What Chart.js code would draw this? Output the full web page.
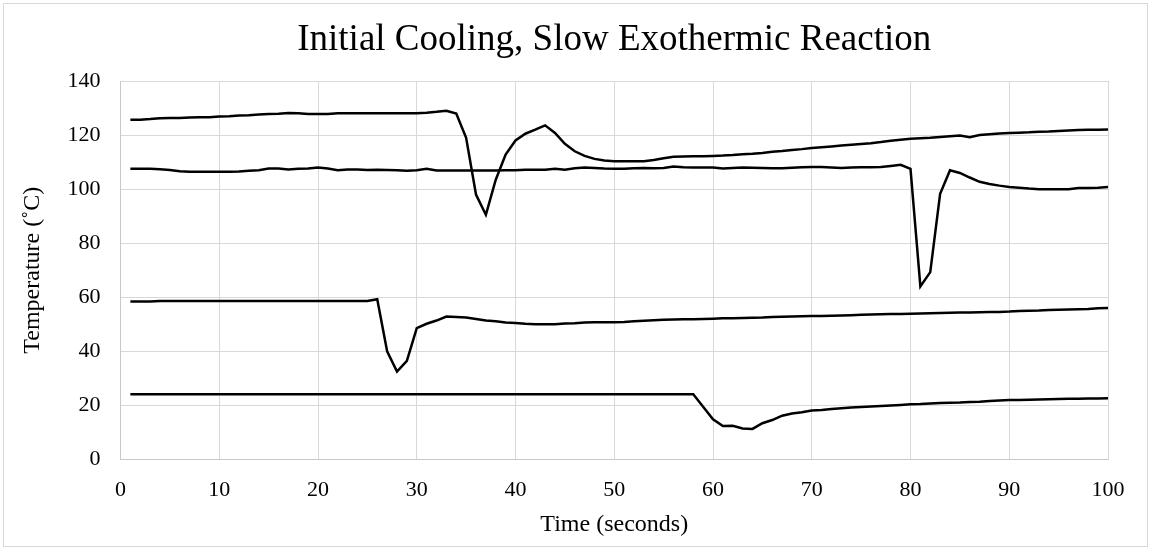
<!DOCTYPE html>
<html>
<head>
<meta charset="utf-8">
<script src="https://cdn.jsdelivr.net/npm/chart.js@4"></script>
<style>
  html, body { margin: 0; padding: 0; background: #ffffff; }
  #wrap { width: 1151px; height: 547px; position: relative; }
</style>
</head>
<body>
<div id="wrap"><canvas id="c" width="1151" height="547"></canvas></div>
<script>
const chartTitle = "Initial Cooling, Slow Exothermic Reaction";
const xTitle = "Time (seconds)";
const yTitle = "Temperature (\u02DAC)";

const times = [1,2,3,4,5,6,7,8,9,10,11,12,13,14,15,16,17,18,19,20,
  21,22,23,24,25,26,27,28,29,30,31,32,33,34,35,36,37,38,39,40,
  41,42,43,44,45,46,47,48,49,50,51,52,53,54,55,56,57,58,59,60,
  61,62,63,64,65,66,67,68,69,70,71,72,73,74,75,76,77,78,79,80,
  81,82,83,84,85,86,87,88,89,90,91,92,93,94,95,96,97,98,99,100];

const seriesA = [125.7,125.7,125.9,126.2,126.3,126.3,126.5,126.6,126.6,126.9,
  127.0,127.2,127.3,127.6,127.8,127.9,128.2,128.1,127.8,127.8,
  127.8,128.1,128.1,128.1,128.1,128.1,128.1,128.1,128.1,128.1,
  128.3,128.6,129.0,128.0,119.0,98.0,90.5,103.5,112.8,118.0,
  120.5,122.0,123.6,120.8,116.8,114.0,112.3,111.2,110.6,110.3,
  110.3,110.3,110.3,110.8,111.4,112.0,112.1,112.2,112.2,112.3,
  112.4,112.6,112.9,113.1,113.4,113.8,114.1,114.5,114.8,115.2,
  115.5,115.8,116.1,116.4,116.7,117.0,117.4,117.9,118.3,118.6,
  118.8,119.0,119.3,119.6,119.8,119.2,120.0,120.3,120.6,120.8,
  120.9,121.0,121.2,121.3,121.5,121.7,121.9,122.0,122.0,122.1];

const seriesB = [107.5,107.5,107.5,107.4,107.1,106.6,106.4,106.4,106.4,106.4,
  106.4,106.5,106.8,107.0,107.6,107.6,107.3,107.5,107.6,108.0,
  107.6,107.0,107.3,107.3,107.1,107.2,107.1,107.0,106.8,107.0,
  107.5,106.9,106.9,106.9,106.9,106.9,106.9,106.9,107.0,107.0,
  107.2,107.2,107.2,107.5,107.2,107.7,108.0,107.8,107.6,107.5,
  107.5,107.7,107.8,107.7,107.8,108.4,108.1,108.0,108.0,108.0,
  107.6,107.8,108.0,107.9,107.8,107.7,107.7,107.9,108.1,108.2,
  108.2,108.0,107.8,108.0,108.1,108.1,108.2,108.6,109.0,107.5,
  64.0,69.3,98.3,107.0,106.0,104.3,102.7,101.9,101.3,100.8,
  100.5,100.2,100.0,100.0,100.0,100.0,100.4,100.4,100.5,100.8];

const seriesC = [58.4,58.4,58.4,58.6,58.6,58.6,58.6,58.6,58.6,58.6,
  58.6,58.6,58.6,58.6,58.6,58.6,58.6,58.6,58.6,58.6,
  58.6,58.6,58.6,58.6,58.6,59.3,40.0,32.5,36.5,48.6,
  50.2,51.4,52.9,52.7,52.5,52.0,51.4,51.1,50.7,50.5,
  50.2,50.0,50.0,50.0,50.3,50.4,50.7,50.8,50.8,50.8,
  50.9,51.1,51.3,51.5,51.7,51.8,51.9,51.9,52.0,52.1,
  52.2,52.2,52.3,52.4,52.5,52.7,52.8,52.9,53.0,53.1,
  53.1,53.2,53.3,53.4,53.5,53.6,53.7,53.8,53.8,53.9,
  54.0,54.1,54.2,54.3,54.4,54.4,54.5,54.6,54.6,54.7,
  54.9,55.0,55.1,55.3,55.4,55.5,55.6,55.7,55.9,56.0];

const seriesD = [24.1,24.1,24.1,24.1,24.1,24.1,24.1,24.1,24.1,24.1,
  24.1,24.1,24.1,24.1,24.1,24.1,24.1,24.1,24.1,24.1,
  24.1,24.1,24.1,24.1,24.1,24.1,24.1,24.1,24.1,24.1,
  24.1,24.1,24.1,24.1,24.1,24.1,24.1,24.1,24.1,24.1,
  24.1,24.1,24.1,24.1,24.1,24.1,24.1,24.1,24.1,24.1,
  24.1,24.1,24.1,24.1,24.1,24.1,24.1,24.1,19.5,14.9,
  12.4,12.5,11.5,11.3,13.4,14.6,16.2,17.0,17.5,18.1,
  18.3,18.7,19.0,19.2,19.4,19.6,19.8,20.0,20.2,20.4,
  20.5,20.7,20.9,21.0,21.1,21.3,21.4,21.6,21.8,22.0,
  22.0,22.1,22.2,22.3,22.4,22.5,22.5,22.6,22.6,22.7];

const xMin = 0, xMax = 100, xStep = 10;
const yMin = 0, yMax = 140, yStep = 20;

function pts(vals) { return vals.map((v, i) => ({ x: times[i], y: v })); }

const FONT = "'Liberation Serif', 'Times New Roman', serif";
const GRID = '#d9d9d9';

const outerBorder = {
  id: 'outerBorder',
  afterDraw(chart) {
    const ctx = chart.ctx;
    ctx.save();
    ctx.strokeStyle = '#d9d9d9';
    ctx.lineWidth = 1;
    ctx.strokeRect(3.5, 3.5, chart.width - 7, chart.height - 4);
    ctx.restore();
  }
};

const lineStyle = { borderColor: '#000000', borderWidth: 2.5, pointRadius: 0, pointHoverRadius: 0, tension: 0, fill: false };

new Chart(document.getElementById('c'), {
  type: 'line',
  data: {
    datasets: [
      Object.assign({ label: 'A', data: pts(seriesA) }, lineStyle),
      Object.assign({ label: 'B', data: pts(seriesB) }, lineStyle),
      Object.assign({ label: 'C', data: pts(seriesC) }, lineStyle),
      Object.assign({ label: 'D', data: pts(seriesD) }, lineStyle)
    ]
  },
  options: {
    responsive: false,
    animation: false,
    layout: { padding: { left: 0, right: 43, top: 0, bottom: 0 } },
    plugins: {
      legend: { display: false },
      tooltip: { enabled: false },
      title: {
        display: true,
        text: chartTitle,
        fullSize: false,
        color: '#000000',
        font: { family: FONT, size: 37, weight: 'normal', lineHeight: 1.2 },
        padding: { top: 18, bottom: 18.6 }
      }
    },
    scales: {
      x: {
        type: 'linear',
        min: xMin, max: xMax,
        afterFit(s) { s.height = 87.5; },
        ticks: { stepSize: xStep, color: '#000000', font: { family: FONT, size: 22 }, padding: 18, maxRotation: 0 },
        grid: { color: GRID, lineWidth: 1, drawTicks: false },
        border: { color: '#c8c8c8', width: 1 },
        title: { display: true, text: xTitle, color: '#000000', font: { family: FONT, size: 24, lineHeight: 1.2 }, padding: { top: 0, bottom: 8 } }
      },
      y: {
        type: 'linear',
        min: yMin, max: yMax,
        afterFit(s) { s.width = 120.5; },
        ticks: { stepSize: yStep, color: '#000000', font: { family: FONT, size: 22 }, padding: 20 },
        grid: { color: GRID, lineWidth: 1, drawTicks: false },
        border: { color: '#c8c8c8', width: 1 },
        title: { display: true, text: yTitle, color: '#000000', font: { family: FONT, size: 24, lineHeight: 1.2 }, padding: { top: 18, bottom: 0 } }
      }
    }
  },
  plugins: [outerBorder]
});
</script>
</body>
</html>
